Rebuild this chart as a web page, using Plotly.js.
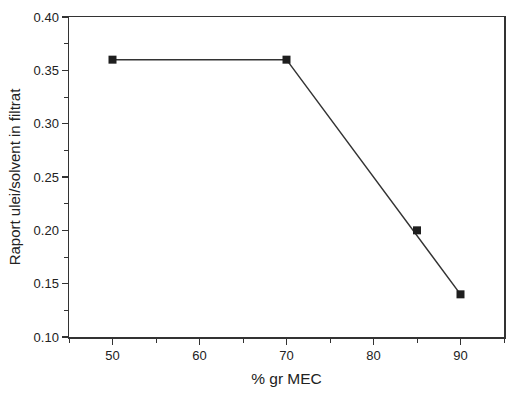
<!DOCTYPE html>
<html>
<head>
<meta charset="utf-8">
<script src="https://cdn.plot.ly/plotly-3.0.1.min.js"></script>
<style>
html,body{margin:0;padding:0;background:#fff;}
#chart{width:515px;height:395px;}
</style>
</head>
<body>
<div id="chart"></div>
<script>
// Measured points
const mecPercent = [50, 70, 85, 90];
const oilSolventRatio = [0.36, 0.36, 0.20, 0.14];
// Drawn trend line (connects through these points)
const lineX = [50, 70, 90];
const lineY = [0.36, 0.36, 0.14];

const xTitle = '% gr MEC';
const yTitle = 'Raport ulei/solvent in filtrat';

const font = 'Arial, "Liberation Sans", sans-serif';
const axisColor = '#333';

const traces = [
  {
    x: lineX, y: lineY, mode: 'lines', type: 'scatter',
    line: {color: '#333', width: 1.5}, hoverinfo: 'skip', showlegend: false
  },
  {
    x: mecPercent, y: oilSolventRatio, mode: 'markers', type: 'scatter',
    marker: {symbol: 'square', size: 8, color: '#1e1e1e'}, showlegend: false
  }
];

const axisCommon = {
  showline: true, linecolor: axisColor, linewidth: 1.5, mirror: true,
  showgrid: false, zeroline: false,
  ticks: 'outside', ticklen: 6, tickwidth: 1.2, tickcolor: axisColor,
  tickfont: {family: font, size: 13, color: '#222'},
};

const layout = {
  width: 515, height: 395,
  margin: {l: 69, r: 11, t: 17, b: 58},
  paper_bgcolor: '#fff', plot_bgcolor: '#fff',
  font: {family: font, color: '#222'},
  xaxis: Object.assign({}, axisCommon, {
    range: [45, 95], tickvals: [50, 60, 70, 80, 90],
    minor: {dtick: 5, tick0: 45, ticks: 'outside', ticklen: 4, tickcolor: axisColor, tickwidth: 1},
    title: {text: xTitle, font: {family: font, size: 15.5, color: '#222'}, standoff: 11}
  }),
  yaxis: Object.assign({}, axisCommon, {
    range: [0.1, 0.4], dtick: 0.05, tick0: 0.1, tickformat: '.2f',
    minor: {dtick: 0.025, tick0: 0.1, ticks: 'outside', ticklen: 4, tickcolor: axisColor, tickwidth: 1},
    title: {text: yTitle, font: {family: font, size: 15, color: '#222'}, standoff: 9}
  })
};

Plotly.newPlot('chart', traces, layout, {displayModeBar: false, staticPlot: true});
</script>
</body>
</html>
